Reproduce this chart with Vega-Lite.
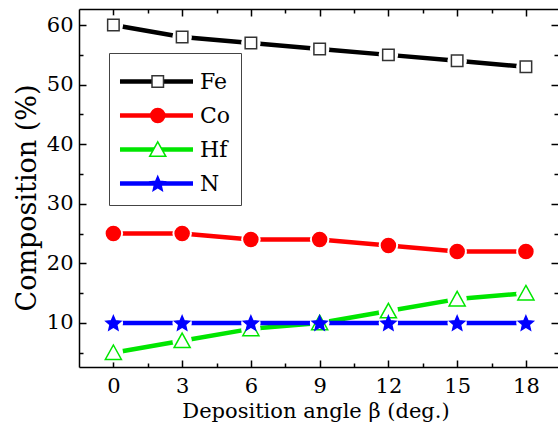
{
  "$schema": "https://vega.github.io/schema/vega-lite/v6.json",
  "width": 479,
  "height": 358,
  "autosize": {"type": "none"},
  "padding": {"left": 79, "top": 9, "right": 0, "bottom": 58},
  "background": "white",
  "config": {"view": {"stroke": null}, "font": "DejaVu Serif"},
  "data": {
    "values": [
      {"x": 0, "v": 60, "el": "Fe"}, {"x": 3, "v": 58, "el": "Fe"}, {"x": 6, "v": 57, "el": "Fe"}, {"x": 9, "v": 56, "el": "Fe"}, {"x": 12, "v": 55, "el": "Fe"}, {"x": 15, "v": 54, "el": "Fe"}, {"x": 18, "v": 53, "el": "Fe"},
      {"x": 0, "v": 25, "el": "Co"}, {"x": 3, "v": 25, "el": "Co"}, {"x": 6, "v": 24, "el": "Co"}, {"x": 9, "v": 24, "el": "Co"}, {"x": 12, "v": 23, "el": "Co"}, {"x": 15, "v": 22, "el": "Co"}, {"x": 18, "v": 22, "el": "Co"},
      {"x": 0, "v": 5, "el": "Hf"}, {"x": 3, "v": 7, "el": "Hf"}, {"x": 6, "v": 9, "el": "Hf"}, {"x": 9, "v": 10, "el": "Hf"}, {"x": 12, "v": 12, "el": "Hf"}, {"x": 15, "v": 14, "el": "Hf"}, {"x": 18, "v": 15, "el": "Hf"},
      {"x": 0, "v": 10, "el": "N"}, {"x": 3, "v": 10, "el": "N"}, {"x": 6, "v": 10, "el": "N"}, {"x": 9, "v": 10, "el": "N"}, {"x": 12, "v": 10, "el": "N"}, {"x": 15, "v": 10, "el": "N"}, {"x": 18, "v": 10, "el": "N"}
    ]
  },
  "layer": [
    {
      "mark": {"type": "line", "strokeWidth": 4.5, "strokeJoin": "round", "strokeCap": "butt"},
      "encoding": {
        "x": {"field": "x", "type": "quantitative", "scale": {"domain": [-1.5, 19.4], "nice": false, "zero": false},
          "axis": {"orient": "bottom", "values": [0, 3, 6, 9, 12, 15, 18], "tickSize": -7, "tickWidth": 1.5, "tickColor": "black", "domainColor": "black", "domainWidth": 1.5, "grid": false,
            "labelFont": "DejaVu Serif", "labelFontSize": 21, "labelColor": "black", "labelPadding": 15, "labelFlush": false, "labelOverlap": false,
            "title": "Deposition angle β (deg.)", "titleFont": "DejaVu Serif", "titleFontSize": 21, "titleFontWeight": "normal", "titleColor": "black", "titleX": 236.5, "titleY": 50, "titleBaseline": "alphabetic", "titleAlign": "center"}},
        "y": {"field": "v", "type": "quantitative", "scale": {"domain": [2.6, 62.7], "nice": false, "zero": false},
          "axis": {"orient": "left", "values": [10, 20, 30, 40, 50, 60], "tickSize": -7, "tickWidth": 1.5, "tickColor": "black", "domainColor": "black", "domainWidth": 1.5, "grid": false,
            "labelFont": "DejaVu Serif", "labelFontSize": 21, "labelColor": "black", "labelPadding": 13, "labelFlush": false, "labelOverlap": false,
            "title": "Composition (%)", "titleFont": "DejaVu Serif", "titleFontSize": 27, "titleFontWeight": "normal", "titleColor": "black", "titleX": -44, "titleY": 188.5, "titleAngle": 270, "titleBaseline": "alphabetic", "titleAlign": "center"}},
        "color": {"field": "el", "type": "nominal", "sort": ["Fe", "Co", "Hf", "N"],
          "scale": {"range": ["#000000", "#ff0000", "#00e600", "#0000ff"]},
          "legend": {"orient": "none", "legendX": 30, "legendY": 44, "title": " ", "titleFontSize": 6, "titlePadding": 1.5, "symbolType": "M-1.43,0H9", "symbolSize": 196, "symbolStrokeWidth": 4.5,
            "labelFont": "DejaVu Serif", "labelFontSize": 22, "labelColor": "black", "labelOffset": 59, "strokeColor": "#444444", "padding": 10, "rowPadding": 12}}
      }
    },
    {
      "mark": {"type": "point", "shape": "circle", "filled": true, "color": "white", "size": 380, "opacity": 1},
      "encoding": {
        "x": {"field": "x", "type": "quantitative",
          "axis": {"orient": "bottom", "values": [1.5, 4.5, 7.5, 10.5, 13.5, 16.5], "tickSize": -4, "tickWidth": 1.5, "tickColor": "black", "domain": false, "labels": false, "grid": false, "title": null}},
        "y": {"field": "v", "type": "quantitative",
          "axis": {"orient": "left", "values": [5, 15, 25, 35, 45, 55], "tickSize": -4, "tickWidth": 1.5, "tickColor": "black", "domain": false, "labels": false, "grid": false, "title": null}}
      }
    },
    {
      "transform": [{"filter": {"field": "el", "oneOf": ["Fe", "Co"]}}],
      "mark": {"type": "point", "size": 196, "strokeWidth": 1.5, "opacity": 1},
      "encoding": {
        "x": {"field": "x", "type": "quantitative",
          "axis": {"orient": "top", "values": [0, 3, 6, 9, 12, 15, 18], "tickSize": -7, "tickWidth": 1.5, "tickColor": "black", "domainColor": "black", "domainWidth": 1.5, "labels": false, "grid": false, "title": null}},
        "y": {"field": "v", "type": "quantitative",
          "axis": {"orient": "right", "values": [10, 20, 30, 40, 50, 60], "tickSize": -7, "tickWidth": 1.5, "tickColor": "black", "domain": false, "labels": false, "grid": false, "title": null}},
        "shape": {"field": "el", "type": "nominal", "scale": {"domain": ["Fe", "Co", "Hf", "N"], "range": ["M-0.82,-0.82H0.82V0.82H-0.82Z", "circle", "M0,-1.1L1.15,0.97L-1.15,0.97Z", "M0,-1L0.294,-0.305L1.046,-0.24L0.476,0.255L0.647,0.99L0,0.6L-0.647,0.99L-0.476,0.255L-1.046,-0.24L-0.294,-0.305Z"]},
          "legend": {"orient": "none", "legendX": 57.75, "legendY": 44, "title": " ", "titleFontSize": 6, "titlePadding": 1.5, "symbolSize": 196, "symbolStrokeWidth": 1.5, "labelFontSize": 22, "labelExpr": "''", "padding": 10, "rowPadding": 12}},
        "fill": {"field": "el", "type": "nominal", "scale": {"domain": ["Fe", "Co", "Hf", "N"], "range": ["#ffffff", "#ff0000", "#ffffff", "#0000ff"]},
          "legend": {"orient": "none", "legendX": 57.75, "legendY": 44, "title": " ", "titleFontSize": 6, "titlePadding": 1.5, "symbolSize": 196, "symbolStrokeWidth": 1.5, "labelFontSize": 22, "labelExpr": "''", "padding": 10, "rowPadding": 12}},
        "stroke": {"field": "el", "type": "nominal", "scale": {"domain": ["Fe", "Co", "Hf", "N"], "range": ["#333333", "#ff0000", "#00e600", "#0000ff"]},
          "legend": {"orient": "none", "legendX": 57.75, "legendY": 44, "title": " ", "titleFontSize": 6, "titlePadding": 1.5, "symbolSize": 196, "symbolStrokeWidth": 1.5, "labelFontSize": 22, "labelExpr": "''", "padding": 10, "rowPadding": 12}}
      }
    },
    {
      "transform": [{"filter": {"field": "el", "oneOf": ["Hf", "N"]}}],
      "mark": {"type": "point", "size": 196, "strokeWidth": 1.5, "opacity": 1},
      "encoding": {
        "x": {"field": "x", "type": "quantitative",
          "axis": {"orient": "top", "values": [1.5, 4.5, 7.5, 10.5, 13.5, 16.5], "tickSize": -4, "tickWidth": 1.5, "tickColor": "black", "domain": false, "labels": false, "grid": false, "title": null}},
        "y": {"field": "v", "type": "quantitative",
          "axis": {"orient": "right", "values": [5, 15, 25, 35, 45, 55], "tickSize": -4, "tickWidth": 1.5, "tickColor": "black", "domain": false, "labels": false, "grid": false, "title": null}},
        "shape": {"field": "el", "type": "nominal", "legend": {"orient": "none", "legendX": 57.75, "legendY": 44, "title": " ", "titleFontSize": 6, "titlePadding": 1.5, "symbolSize": 196, "symbolStrokeWidth": 1.5, "labelFontSize": 22, "labelExpr": "''", "padding": 10, "rowPadding": 12}},
        "fill": {"field": "el", "type": "nominal", "legend": {"orient": "none", "legendX": 57.75, "legendY": 44, "title": " ", "titleFontSize": 6, "titlePadding": 1.5, "symbolSize": 196, "symbolStrokeWidth": 1.5, "labelFontSize": 22, "labelExpr": "''", "padding": 10, "rowPadding": 12}},
        "stroke": {"field": "el", "type": "nominal", "legend": {"orient": "none", "legendX": 57.75, "legendY": 44, "title": " ", "titleFontSize": 6, "titlePadding": 1.5, "symbolSize": 196, "symbolStrokeWidth": 1.5, "labelFontSize": 22, "labelExpr": "''", "padding": 10, "rowPadding": 12}}
      }
    }
  ],
  "resolve": {"axis": {"x": "independent", "y": "independent"}}
}
